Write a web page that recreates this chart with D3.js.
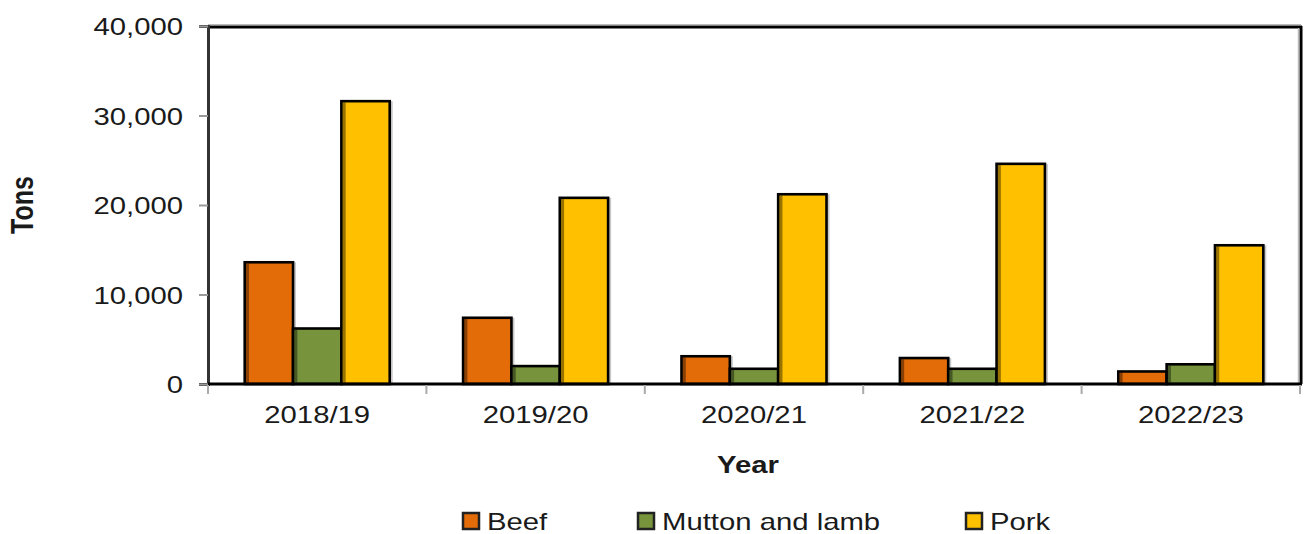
<!DOCTYPE html>
<html>
<head>
<meta charset="utf-8">
<script src="https://cdn.jsdelivr.net/npm/d3@7"></script>
<style>
  html, body { margin: 0; padding: 0; background: #fff; }
  svg { display: block; }
  text { font-family: "Liberation Sans", Arial, sans-serif; fill: #1a1a1a; }
</style>
</head>
<body>
<svg id="chart" width="1310" height="534"></svg>
<script>
const years = ["2018/19", "2019/20", "2020/21", "2021/22", "2022/23"];
const seriesNames = ["Beef", "Mutton and lamb", "Pork"];
const beef = [13600, 7400, 3100, 2900, 1400];
const mutton = [6200, 2000, 1700, 1700, 2200];
const pork = [31600, 20800, 21200, 24600, 15500];
const colors = ["#E36C09", "#77933C", "#FFC000"];
const yTicks = [0, 10000, 20000, 30000, 40000];

const seriesValues = [beef, mutton, pork];
const SX = 1.22; // horizontal text stretch

const svg = d3.select("#chart");
const pL = 208, pR = 1300, pT = 26, pB = 384;

const x = d3.scaleBand().domain(years).range([pL, pR]).paddingInner(0.336).paddingOuter(0.168);
const xs = d3.scaleBand().domain(seriesNames).range([0, x.bandwidth()]);
const y = d3.scaleLinear().domain([0, 40000]).range([pB, pT]);

function stretch(sel, f) {
  sel.each(function () {
    const w = this.getComputedTextLength();
    this.setAttribute("textLength", w * f);
    this.setAttribute("lengthAdjust", "spacingAndGlyphs");
  });
}

// plot frame (top and right)
svg.append("line").attr("x1", pL).attr("x2", pR + 1).attr("y1", pT - 1.5).attr("y2", pT - 1.5)
  .attr("stroke", "#bbb").attr("stroke-width", 1);
svg.append("line").attr("x1", pL).attr("x2", pR + 2).attr("y1", pT + 1).attr("y2", pT + 1)
  .attr("stroke", "#000").attr("stroke-width", 3);
svg.append("line").attr("x1", pR + 1).attr("x2", pR + 1).attr("y1", pT).attr("y2", pB)
  .attr("stroke", "#000").attr("stroke-width", 3);
svg.append("line").attr("x1", pR - 1.5).attr("x2", pR - 1.5).attr("y1", pT + 2).attr("y2", pB)
  .attr("stroke", "#bbb").attr("stroke-width", 1.5);

// bars
const groups = svg.append("g").selectAll("g").data(years).join("g")
  .attr("transform", d => `translate(${x(d)},0)`);

groups.each(function (yr, i) {
  const g = d3.select(this);
  seriesNames.forEach((s, j) => {
    const v = seriesValues[j][i];
    const bx = xs(s), bw = xs.bandwidth();
    const by = y(v), bh = y(0) - y(v);
    g.append("rect").attr("x", bx + bw).attr("y", by).attr("width", 3).attr("height", bh)
      .attr("fill", "#c8c8c8");
    g.append("rect").attr("x", bx).attr("y", by).attr("width", bw).attr("height", bh)
      .attr("fill", colors[j]).attr("stroke", "#000").attr("stroke-width", 2.6);
    g.append("rect").attr("x", bx + 1.3).attr("y", by + 1.3).attr("width", 3).attr("height", Math.max(0, bh - 2.6))
      .attr("fill", "#000").attr("opacity", 0.4);
  });
});

// y axis
const yAxis = svg.append("g").attr("transform", `translate(${pL},0)`)
  .call(d3.axisLeft(y).tickValues(yTicks).tickFormat(d3.format(",")).tickSize(9).tickPadding(16));
yAxis.select(".domain").attr("stroke", "#333").attr("stroke-width", 3);
yAxis.selectAll(".tick line").attr("stroke", "#999").attr("stroke-width", 2);
yAxis.selectAll(".tick text").attr("font-size", 24).attr("fill", "#1a1a1a")
  .attr("font-family", "'Liberation Sans', Arial, sans-serif").attr("dy", "0.36em");
stretch(yAxis.selectAll(".tick text"), SX);

// x axis
const xAxis = svg.append("g").attr("transform", `translate(0,${pB})`)
  .call(d3.axisBottom(x).tickSize(0).tickPadding(22));
xAxis.select(".domain").remove();
xAxis.selectAll(".tick text").attr("font-size", 24).attr("fill", "#1a1a1a")
  .attr("font-family", "'Liberation Sans', Arial, sans-serif");
stretch(xAxis.selectAll(".tick text"), SX);
svg.append("line").attr("x1", pL).attr("x2", pR + 2).attr("y1", pB).attr("y2", pB)
  .attr("stroke", "#000").attr("stroke-width", 3);
const boundPos = years.map((d, i) => pL + i * x.step()).concat([pR]);
svg.append("g").selectAll("line").data(boundPos).join("line")
  .attr("x1", d => d).attr("x2", d => d).attr("y1", pB + 1).attr("y2", pB + 10)
  .attr("stroke", "#aaa").attr("stroke-width", 2);

// axis titles
svg.append("text").attr("x", 748).attr("y", 473).attr("text-anchor", "middle")
  .attr("font-size", 24).attr("font-weight", "bold").text("Year")
  .call(s => stretch(s, SX));
svg.append("text").attr("transform", `translate(33,205) scale(${SX},1) rotate(-90)`)
  .attr("text-anchor", "middle").attr("font-size", 25).attr("font-weight", "bold").text("Tons");

// legend
const legendX = [462, 637, 965];
const leg = svg.append("g").selectAll("g").data(seriesNames).join("g")
  .attr("transform", (d, i) => `translate(${legendX[i]},512)`);
leg.append("rect").attr("x", 1).attr("y", 1).attr("width", 16).attr("height", 16)
  .attr("fill", (d, i) => colors[i]).attr("stroke", "#222").attr("stroke-width", 2.5);
leg.append("text").attr("x", 25).attr("y", 18).attr("font-size", 24).text(d => d)
  .call(s => stretch(s, SX));
</script>
</body>
</html>
